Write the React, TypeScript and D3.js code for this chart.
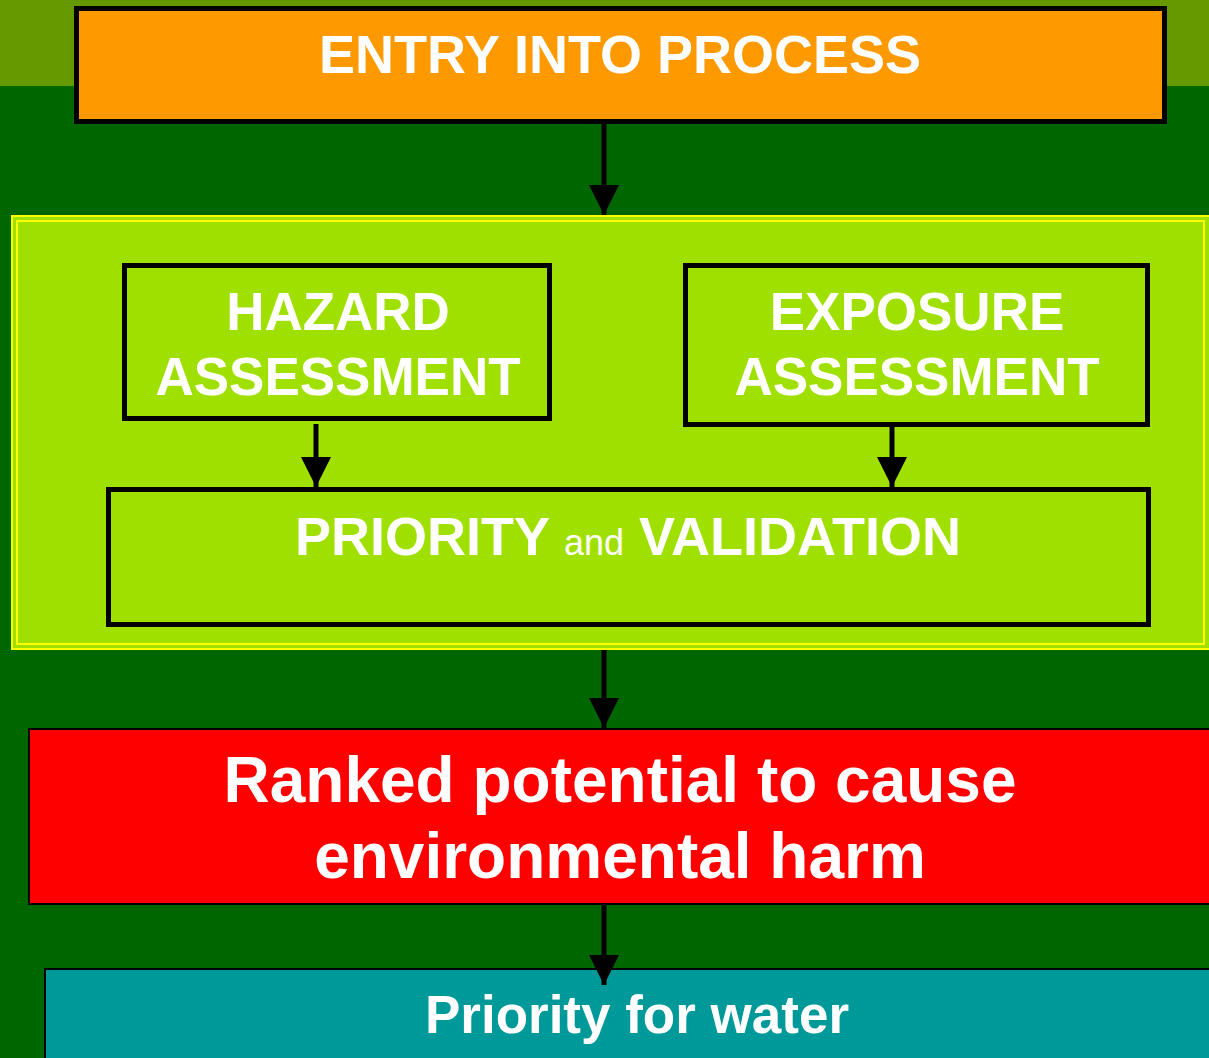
import React, { useEffect, useRef } from 'react';
import * as d3 from 'd3';

// text content of the flow
const entryLabel = ['ENTRY INTO PROCESS'];
const hazardLabel = ['HAZARD', 'ASSESSMENT'];
const exposureLabel = ['EXPOSURE', 'ASSESSMENT'];
const rankedLabel = ['Ranked potential to cause', 'environmental harm'];
const waterLabel = ['Priority for water'];

const W = 1209, H = 1058;
const FONT = '"Liberation Sans", Arial, Helvetica, sans-serif';

const App = () => {
  const svgRef = useRef<SVGSVGElement>(null);

  useEffect(() => {
    const svg = d3.select(svgRef.current);
    svg.selectAll('*').remove();

    // arrow head marker
    svg.append('defs').append('marker')
      .attr('id', 'head')
      .attr('viewBox', '0 0 10 10')
      .attr('refX', 10).attr('refY', 5)
      .attr('markerWidth', 6).attr('markerHeight', 6)
      .attr('markerUnits', 'strokeWidth')
      .attr('orient', 'auto')
      .append('path').attr('d', 'M0,0 L10,5 L0,10 Z').attr('fill', '#000');

    // background bands
    svg.append('rect').attr('width', W).attr('height', H).attr('fill', '#006600');
    svg.append('rect').attr('width', W).attr('height', 86).attr('fill', '#669900');

    const box = (x, y, w, h, fill, sw) =>
      svg.append('rect')
        .attr('x', x).attr('y', y).attr('width', w).attr('height', h)
        .attr('fill', fill).attr('stroke', '#000').attr('stroke-width', sw);

    const label = (lines, cx, y0, dy, size) => {
      const t = svg.append('text')
        .attr('text-anchor', 'middle')
        .attr('font-family', FONT)
        .attr('font-weight', 'bold')
        .attr('font-size', size)
        .attr('fill', '#fff');
      lines.forEach((l, i) => {
        t.append('tspan').attr('x', cx).attr('y', y0 + i * dy).text(l);
      });
      return t;
    };

    const arrow = (x, y1, y2) =>
      svg.append('line')
        .attr('x1', x).attr('x2', x).attr('y1', y1).attr('y2', y2)
        .attr('stroke', '#000').attr('stroke-width', 5)
        .attr('marker-end', 'url(#head)');

    // entry box
    box(76.5, 8.5, 1088, 113, '#FF9900', 5);
    label(entryLabel, 620, 73, 0, 54);

    // assessment panel with double yellow border
    svg.append('rect').attr('x', 11).attr('y', 215).attr('width', W).attr('height', 435)
      .attr('fill', '#A0E000');
    svg.append('rect').attr('x', 12).attr('y', 216).attr('width', W).attr('height', 433)
      .attr('fill', 'none').attr('stroke', '#FFFF00').attr('stroke-width', 2);
    svg.append('rect').attr('x', 17).attr('y', 221).attr('width', 1187).attr('height', 423)
      .attr('fill', 'none').attr('stroke', '#FFFF00').attr('stroke-width', 2);

    arrow(604, 123, 215);

    box(124.5, 265.5, 425, 153, '#A0E000', 5);
    label(hazardLabel, 338, 330, 65, 53);
    box(685.5, 265.5, 462, 159, '#A0E000', 5);
    label(exposureLabel, 917, 330, 65, 53);

    arrow(316, 424, 487);
    arrow(892, 427, 487);

    box(108.5, 489.5, 1040, 135, '#A0E000', 5);
    const p = label(['PRIORITY '], 628, 555, 0, 54);
    p.select('tspan').append('tspan').attr('font-size', 36).attr('font-weight', 'normal').text('and');
    p.select('tspan').append('tspan').text(' VALIDATION');

    arrow(604, 650, 728);

    // ranked harm box
    box(29, 729, 1200, 175, '#FF0000', 2);
    label(rankedLabel, 620, 802, 76, 64);

    // water box
    box(45, 969, 1200, 120, '#009999', 2);
    label(waterLabel, 637, 1033, 0, 53);

    arrow(604, 905, 985);
  }, []);

  return (
    <svg ref={svgRef} width={W} height={H} style={{ display: 'block', position: 'absolute', left: 0, top: 0 }} />
  );
};

export default App;
